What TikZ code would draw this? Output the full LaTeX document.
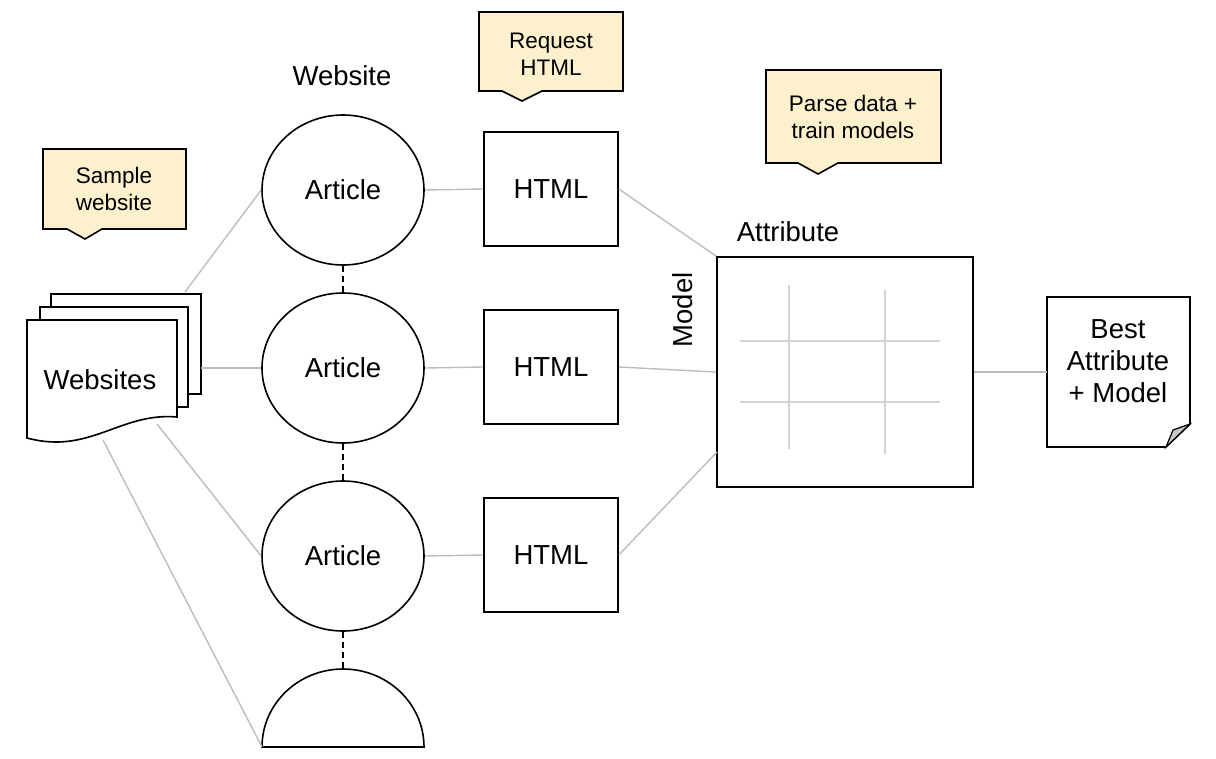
\documentclass[tikz,border=0pt]{standalone}
\usepackage{fontspec}
\setmainfont{Liberation Sans}
\usetikzlibrary{shapes.geometric}
\definecolor{conncol}{HTML}{BDBDBD}
\definecolor{gridcol}{HTML}{D3D3D3}
\definecolor{notefill}{HTML}{FCF1CC}
\definecolor{foldfill}{HTML}{C8C8C8}
\begin{document}
\begin{tikzpicture}[x=1pt,y=-1pt,
  bigfont/.style={font=\fontsize{27.5}{32}\selectfont},
  notefont/.style={font=\fontsize{22.5}{27}\selectfont},
  outline/.style={draw=black,line width=1.6pt},
  article/.style={ellipse,outline,fill=white,minimum width=162pt,minimum height=150pt,inner sep=0pt,bigfont},
  htmlbox/.style={rectangle,outline,fill=white,minimum width=134pt,minimum height=114pt,inner sep=0pt,bigfont},
  conn/.style={draw=conncol,line width=1.4pt},
  dotconn/.style={draw=black,line width=1.6pt,dash pattern=on 6pt off 4pt},
  note/.style={outline,fill=notefill,line join=miter},
  label/.style={bigfont,inner sep=0pt},
  gridline/.style={draw=gridcol,line width=1.4pt}
]
\useasboundingbox (0,0) rectangle (1216,758);
\fill[white] (0,0) rectangle (1216,758);

% callouts
\path[note] (43,149) -- (186,149) -- (186,229) -- (102,229) -- (85,239) -- (67,229) -- (43,229) -- cycle;
\node[notefont,align=center] (sample) at (114,189) {Sample\\website};
\path[note] (479,12) -- (623,12) -- (623,91) -- (542,91) -- (522,101) -- (502,91) -- (479,91) -- cycle;
\node[notefont,align=center] (request) at (551,54) {Request\\HTML};
\path[note] (766,70) -- (941,70) -- (941,163) -- (838,163) -- (818,174) -- (798,163) -- (766,163) -- cycle;
\node[notefont,align=center] (parse) at (853,117) {Parse data +\\train models};

% websites stack
\draw[outline,fill=white] (51,294) rectangle (201,394);
\draw[outline,fill=white] (40,307) rectangle (188,407);
\draw[outline,fill=white] (27,320) -- (177,320) -- (177,417)
  .. controls (120,412) and (90,455) .. (27,438) -- cycle;
\node[bigfont] (websites) at (100,380) {Websites};
\coordinate (s1) at (185,292);
\coordinate (s2) at (201,368);
\coordinate (s3) at (157,424);
\coordinate (s4) at (103,440);

% articles
\node[label] (website) at (342,76) {Website};
\node[article] (a1) at (343,190) {Article};
\node[article] (a2) at (343,368) {Article};
\node[article] (a3) at (343,556) {Article};
\draw[outline,fill=white] (262,747) arc[start angle=180,end angle=0,x radius=81pt,y radius=78pt] -- cycle;
\coordinate (halftop) at (343,669);
\coordinate (halfleft) at (262,747);

\draw[dotconn] (a1.south) -- (a2.north);
\draw[dotconn] (a2.south) -- (a3.north);
\draw[dotconn] (a3.south) -- (halftop);

\draw[conn] (s1) -- (a1.west);
\draw[conn] (s2) -- (a2.west);
\draw[conn] (s3) -- (a3.west);
\draw[conn] (s4) -- (halfleft);

% HTML boxes
\node[htmlbox] (h1) at (551,189) {HTML};
\node[htmlbox] (h2) at (551,367) {HTML};
\node[htmlbox] (h3) at (551,555) {HTML};
\draw[conn] (a1.east) -- (h1.west);
\draw[conn] (a2.east) -- (h2.west);
\draw[conn] (a3.east) -- (h3.west);

% attribute/model grid
\node[rectangle,outline,minimum width=256pt,minimum height=230pt,inner sep=0pt] (grid) at (845,372) {};
\draw[gridline] (789,285) -- (789,449);
\draw[gridline] (885,290) -- (885,454);
\draw[gridline] (740,341) -- (940,341);
\draw[gridline] (740,402) -- (940,402);
\node[label] (attr) at (788,232) {Attribute};
\node[label,rotate=90] (model) at (683,310) {Model};
\coordinate (g2) at (716,372);
\coordinate (g3) at (717,452);
\draw[conn] (h1.east) -- (grid.north west);
\draw[conn] (h2.east) -- (g2);
\draw[conn] (h3.east) -- (g3);

% best document
\draw[outline,fill=white,line join=miter] (1047,297) -- (1190,297) -- (1190,424) -- (1166,447) -- (1047,447) -- cycle;
\draw[outline,fill=foldfill,line width=1.2pt] (1190,424) -- (1166,447) -- (1173,430) -- cycle;
\node[bigfont,align=center] (best) at (1118,361) {Best\\Attribute\\+ Model};
\coordinate (bestw) at (1047,372);
\draw[conn] (grid.east) -- (bestw);
\end{tikzpicture}
\end{document}
